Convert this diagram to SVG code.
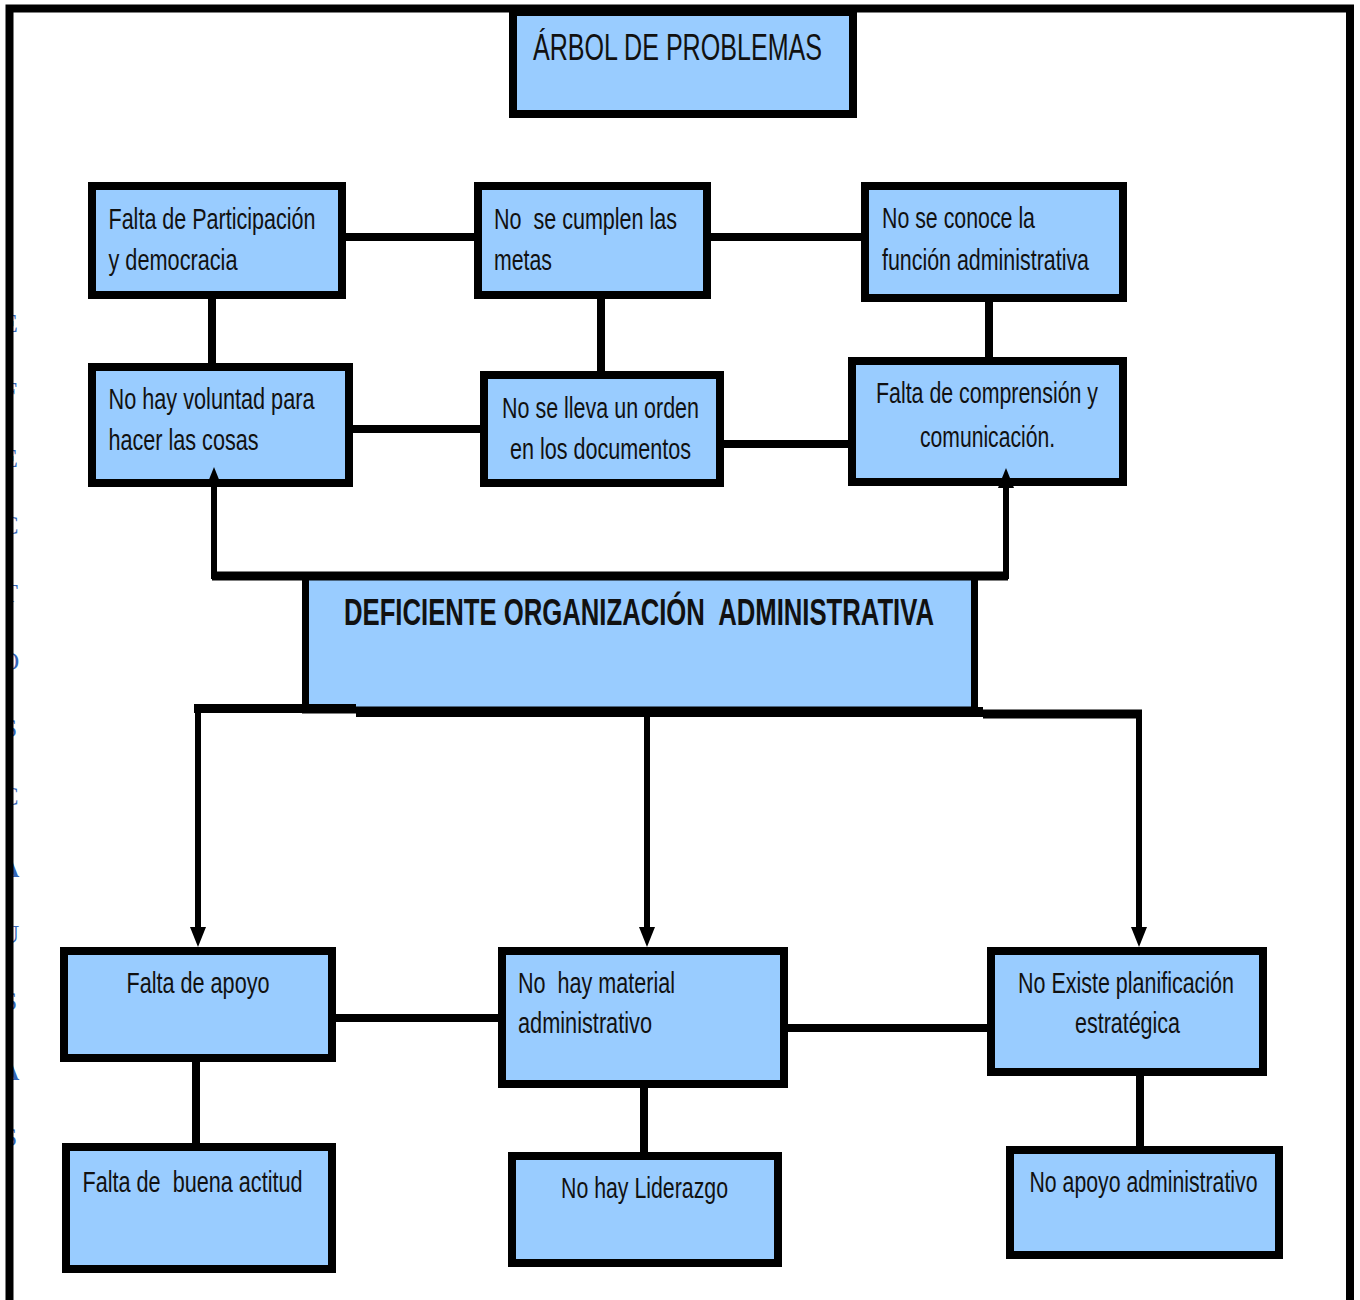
<svg xmlns="http://www.w3.org/2000/svg" width="1360" height="1300" viewBox="0 0 1360 1300">
<style>
.box{fill:#99ccff;stroke:#000;stroke-width:8}
.t{font-family:"Liberation Sans",Arial,sans-serif;font-size:30px;fill:#111;white-space:pre}
.big{font-family:"Liberation Sans",Arial,sans-serif;font-size:37px;fill:#111;white-space:pre}
.c{fill:none;stroke:#000;stroke-width:8}
.a{fill:none;stroke:#000;stroke-width:6}
.side{font-family:"Liberation Serif","Times New Roman",serif;font-size:26px;fill:#3566b8;text-anchor:middle}
</style>
<defs>
<marker id="arr" viewBox="0 0 20 16" markerWidth="20" markerHeight="16" markerUnits="userSpaceOnUse" refX="0" refY="8" orient="auto">
<path d="M0,0 L20,8 L0,16 z" fill="#000"/>
</marker>
<clipPath id="sideclip"><rect x="13" y="0" width="30" height="1300"/></clipPath>
</defs>
<rect width="1360" height="1300" fill="#fff"/>

<g id="side-labels" clip-path="url(#sideclip)">
<text class="side" x="10" y="332">E</text>
<text class="side" x="10" y="400">F</text>
<text class="side" x="10" y="467">E</text>
<text class="side" x="10" y="534">C</text>
<text class="side" x="10" y="602">T</text>
<text class="side" x="10" y="670">O</text>
<text class="side" x="10" y="737">S</text>
<text class="side" x="10" y="805">C</text>
<text class="side" x="10" y="877" font-weight="bold" fill="#24509a">A</text>
<text class="side" x="10" y="943">U</text>
<text class="side" x="10" y="1010">S</text>
<text class="side" x="10" y="1080" font-weight="bold" fill="#24509a">A</text>
<text class="side" x="10" y="1146">S</text>
</g>

<g id="frame">
<path d="M9.5,1300 V8.5 H1350 V1300" fill="none" stroke="#000" stroke-width="8"/>
</g>

<g id="title">
<rect class="box" x="513" y="12" width="340" height="102"/>
<text class="big" x="533" y="60" textLength="289" lengthAdjust="spacingAndGlyphs">ÁRBOL DE PROBLEMAS</text>
</g>

<g id="n-participacion">
<rect class="box" x="92" y="186" width="250" height="109"/>
<text class="t" x="108.5" y="229" textLength="207" lengthAdjust="spacingAndGlyphs">Falta de Participación</text>
<text class="t" x="108.5" y="270" textLength="129" lengthAdjust="spacingAndGlyphs">y democracia</text>
</g>

<g id="n-metas">
<rect class="box" x="478" y="186" width="229" height="109"/>
<text class="t" x="494" y="229" textLength="183" lengthAdjust="spacingAndGlyphs" xml:space="preserve">No  se cumplen las</text>
<text class="t" x="494" y="270" textLength="58" lengthAdjust="spacingAndGlyphs">metas</text>
</g>

<g id="n-funcion">
<rect class="box" x="865" y="186" width="258" height="112"/>
<text class="t" x="882" y="228" textLength="153" lengthAdjust="spacingAndGlyphs">No se conoce la</text>
<text class="t" x="882" y="270" textLength="207" lengthAdjust="spacingAndGlyphs">función administrativa</text>
</g>

<g id="n-voluntad">
<rect class="box" x="92" y="367" width="257" height="116"/>
<text class="t" x="108.5" y="409" textLength="206" lengthAdjust="spacingAndGlyphs">No hay voluntad para</text>
<text class="t" x="108.5" y="450" textLength="150" lengthAdjust="spacingAndGlyphs">hacer las cosas</text>
</g>

<g id="n-orden">
<rect class="box" x="484" y="375" width="236" height="108"/>
<text class="t" x="502" y="418" textLength="197" lengthAdjust="spacingAndGlyphs">No se lleva un orden</text>
<text class="t" x="510" y="459" textLength="181" lengthAdjust="spacingAndGlyphs">en los documentos</text>
</g>

<g id="n-comprension">
<rect class="box" x="852" y="361" width="271" height="121"/>
<text class="t" x="876" y="403" textLength="222" lengthAdjust="spacingAndGlyphs">Falta de comprensión y</text>
<text class="t" x="920" y="447" textLength="135" lengthAdjust="spacingAndGlyphs">comunicación.</text>
</g>

<g id="n-central">
<rect x="305.5" y="576" width="669" height="134" fill="#99ccff" stroke="#000" stroke-width="7"/>
<path d="M212,576 H1008" stroke="#000" stroke-width="9" fill="none"/>
<path d="M194,708.5 H356" stroke="#000" stroke-width="9" fill="none"/>
<path d="M356,712 H983" stroke="#000" stroke-width="10" fill="none"/>
<path d="M983,714 H1142" stroke="#000" stroke-width="9" fill="none"/>
<text class="big" x="344" y="625" font-weight="bold" textLength="590" lengthAdjust="spacingAndGlyphs" xml:space="preserve">DEFICIENTE ORGANIZACIÓN  ADMINISTRATIVA</text>
</g>

<g id="n-apoyo">
<rect class="box" x="64" y="951" width="268" height="107"/>
<text class="t" x="126.5" y="993" textLength="143" lengthAdjust="spacingAndGlyphs">Falta de apoyo</text>
</g>

<g id="n-material">
<rect class="box" x="502" y="951" width="282" height="133"/>
<text class="t" x="518" y="993" textLength="157" lengthAdjust="spacingAndGlyphs" xml:space="preserve">No  hay material</text>
<text class="t" x="518" y="1033" textLength="134" lengthAdjust="spacingAndGlyphs">administrativo</text>
</g>

<g id="n-planificacion">
<rect class="box" x="991" y="951" width="272" height="121"/>
<text class="t" x="1018" y="993" textLength="216" lengthAdjust="spacingAndGlyphs">No Existe planificación</text>
<text class="t" x="1075" y="1033" textLength="105" lengthAdjust="spacingAndGlyphs">estratégica</text>
</g>

<g id="n-actitud">
<rect class="box" x="66" y="1147" width="266" height="122"/>
<text class="t" x="82.5" y="1192" textLength="220" lengthAdjust="spacingAndGlyphs" xml:space="preserve">Falta de  buena actitud</text>
</g>

<g id="n-liderazgo">
<rect class="box" x="512" y="1156" width="266" height="107"/>
<text class="t" x="561" y="1198" textLength="167" lengthAdjust="spacingAndGlyphs">No hay Liderazgo</text>
</g>

<g id="n-apoyo-adm">
<rect class="box" x="1010" y="1150" width="269" height="105"/>
<text class="t" x="1029.5" y="1192" textLength="228" lengthAdjust="spacingAndGlyphs">No apoyo administrativo</text>
</g>

<g id="connectors">
<path class="c" d="M346,237 H474"/>
<path class="c" d="M711,237 H861"/>
<path class="c" d="M353,429 H480"/>
<path class="c" d="M724,444 H848"/>
<path class="c" d="M212,299 V363"/>
<path class="c" d="M601,299 V371"/>
<path class="c" d="M989,302 V357"/>
<path class="a" d="M214,579 V487" marker-end="url(#arr)"/>
<path class="a" d="M1006,579 V488" marker-end="url(#arr)"/>
<path class="a" d="M198,712 V927" marker-end="url(#arr)"/>
<path class="a" d="M647,716 V927" marker-end="url(#arr)"/>
<path class="a" d="M1139,718 V927" marker-end="url(#arr)"/>
<path class="c" d="M336,1018 H498"/>
<path class="c" d="M788,1028 H987"/>
<path class="c" d="M196,1062 V1143"/>
<path class="c" d="M644,1088 V1152"/>
<path class="c" d="M1140,1076 V1146"/>
</g>
</svg>
